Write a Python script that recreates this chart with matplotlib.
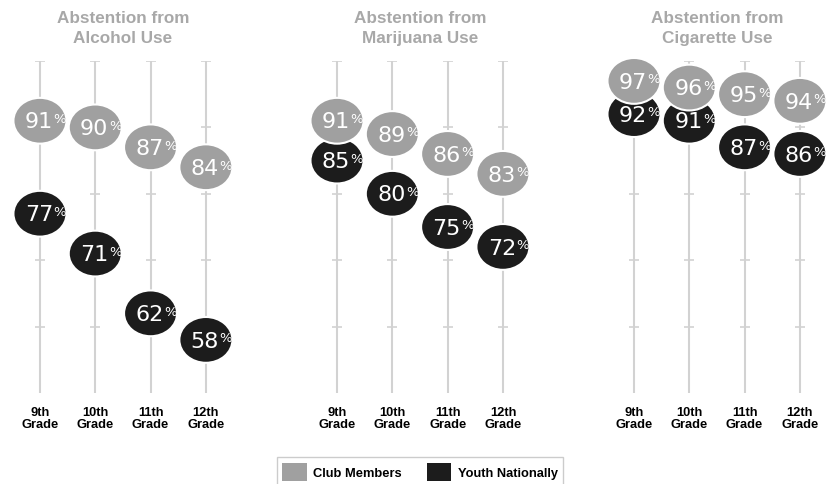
import matplotlib
matplotlib.use("Agg")
import matplotlib.pyplot as plt
from matplotlib.patches import Ellipse, Patch

grades = ["9th\nGrade", "10th\nGrade", "11th\nGrade", "12th\nGrade"]
titles = ["Abstention from\nAlcohol Use",
          "Abstention from\nMarijuana Use",
          "Abstention from\nCigarette Use"]
club_members = [[91, 90, 87, 84],
                [91, 89, 86, 83],
                [97, 96, 95, 94]]
youth_nationally = [[77, 71, 62, 58],
                    [85, 80, 75, 72],
                    [92, 91, 87, 86]]
tick_levels = [60, 70, 80, 90, 100]

GRAY = "#a0a0a0"
BLACK = "#1c1c1c"
LINE = "#d2d2d2"
TITLE = "#a8a8a8"

fig = plt.figure(figsize=(8.27, 4.85), dpi=100)

# panel left edges in figure fraction
lefts = [0.0149, 0.3741, 0.7332]
ell_w, ell_h = 0.96, 6.9


def draw_bubble(ax, x, val, color, z):
    ax.add_patch(Ellipse((x, val), ell_w, ell_h, facecolor=color,
                         edgecolor="white", lw=1.5, zorder=z, clip_on=False))
    ax.annotate(f"{val}", (x, val), xytext=(9.5, -0.5), textcoords="offset points",
                ha="right", va="center", color="white", fontsize=16,
                family="DejaVu Sans", zorder=z + 0.5)
    ax.annotate("%", (x, val), xytext=(9.8, 6.2), textcoords="offset points",
                ha="left", va="top", color="white", fontsize=9.5,
                family="DejaVu Sans", zorder=z + 0.5)


for k in range(3):
    ax = fig.add_axes([lefts[k], 0.1876, 0.2675, 0.6846])
    ax.set_xlim(-0.5, 3.5)
    ax.set_ylim(50, 100)
    xs = range(len(grades))
    ax.vlines(xs, 50, 100, color=LINE, lw=1.5, zorder=1)
    for x in xs:
        ax.plot([x] * len(tick_levels), tick_levels, ls="none", marker="_",
                markersize=7, mew=1.2, color=LINE, zorder=1)
    for x in xs:
        draw_bubble(ax, x, youth_nationally[k][x], BLACK, 3)
        draw_bubble(ax, x, club_members[k][x], GRAY, 5)

    ax.set_xticks(list(xs), labels=grades)
    ax.tick_params(axis="x", length=0, pad=9)
    for lab in ax.get_xticklabels():
        lab.set_fontsize(9.3)
        lab.set_fontweight("bold")
        lab.set_family("Liberation Sans")
        lab.set_linespacing(1.05)
    ax.set_yticks([])
    for s in ax.spines.values():
        s.set_visible(False)
    ax.set_title(titles[k], color=TITLE, fontsize=12.3, fontweight="bold",
                 family="Liberation Sans", linespacing=1.35, pad=14)

handles = [Patch(facecolor=GRAY, edgecolor="none", label="Club Members"),
           Patch(facecolor=BLACK, edgecolor="none", label="Youth Nationally")]
leg = fig.legend(handles=handles, loc="upper center", ncol=2,
                 bbox_to_anchor=(420 / 827, 1 - 452 / 485),
                 prop={"family": "Liberation Sans", "weight": "bold", "size": 9.3},
                 handlelength=1.9, handleheight=1.7, handletextpad=0.5,
                 columnspacing=1.9, borderpad=0.45, fancybox=False,
                 edgecolor="#cccccc", framealpha=1)
leg.get_frame().set_linewidth(1.0)

fig.savefig("out.png", dpi=100, facecolor="white")
